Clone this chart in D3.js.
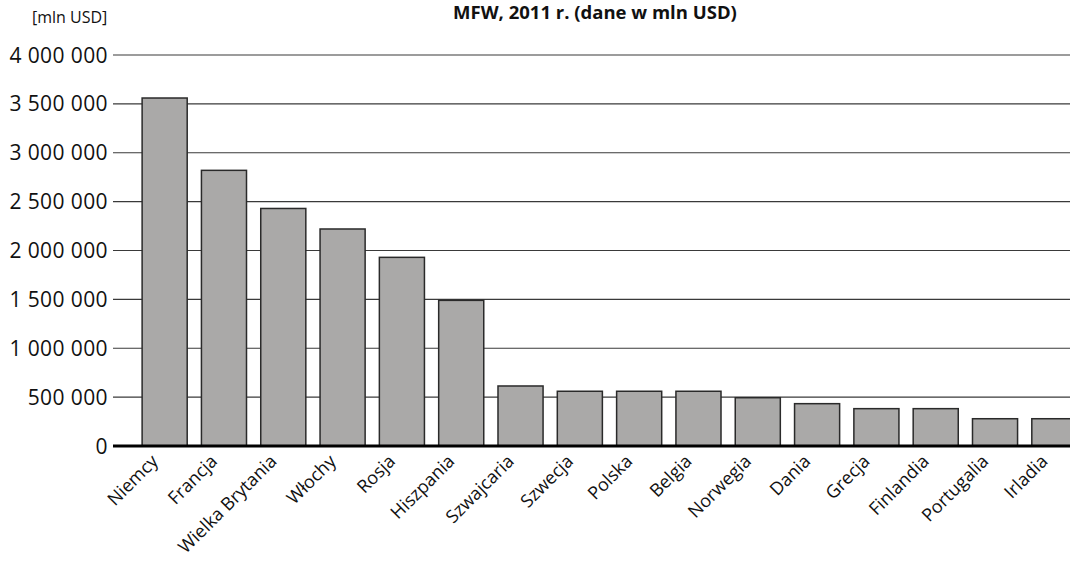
<!DOCTYPE html>
<html>
<head>
<meta charset="utf-8">
<script src="https://cdn.jsdelivr.net/npm/d3@7"></script>
<style>
  html, body { margin: 0; padding: 0; background: #fff; overflow: hidden; }
  svg { display: block; }
</style>
</head>
<body>
<div id="chart"></div>
<script>
// data (mln USD)
const countries = ["Niemcy", "Francja", "Wielka Brytania", "Włochy", "Rosja", "Hiszpania",
    "Szwajcaria", "Szwecja", "Polska", "Belgia", "Norwegia", "Dania", "Grecja",
    "Finlandia", "Portugalia", "Irladia"]
const values = [3560000, 2820000, 2430000, 2220000, 1930000, 1490000,
    614000, 560000, 560000, 560000, 494000, 433000, 382000,
    382000, 279000, 279000]
const yTicks = [0, 500000, 1000000, 1500000, 2000000, 2500000, 3000000, 3500000, 4000000]
const title = "MFW, 2011 r. (dane w mln USD)"
const unitLabel = "[mln USD]"

const width = 1070
const height = 561
const font = "'Open Sans', 'Noto Sans', sans-serif"

const svg = d3.select("#chart").append("svg")
    .attr("width", width)
    .attr("height", height)

const x = d3.scaleBand()
    .domain(countries)
    .range([135, 1084])
    .paddingInner(0.24)
    .paddingOuter(0.12)

const y = d3.scaleLinear()
    .domain([0, 4000000])
    .range([446, 55])

const fmt = v => d3.format(",")(v).replace(/,/g, " ")

// gridlines
svg.append("g")
    .selectAll("line")
    .data(yTicks.filter(d => d > 0))
    .join("line")
    .attr("x1", 113)
    .attr("x2", width)
    .attr("y1", d => y(d))
    .attr("y2", d => y(d))
    .attr("stroke", "#3a3a3a")
    .attr("stroke-width", 1.2)

// tick labels
svg.append("g")
    .selectAll("text")
    .data(yTicks)
    .join("text")
    .attr("x", 108)
    .attr("y", d => y(d))
    .attr("dy", "0.36em")
    .attr("text-anchor", "end")
    .attr("font-family", font)
    .attr("font-size", "21px")
    .attr("letter-spacing", "0.4px")
    .attr("fill", "#111")
    .text(fmt)

// bars
svg.append("g")
    .selectAll("rect")
    .data(countries)
    .join("rect")
    .attr("x", d => x(d))
    .attr("y", (d, i) => y(values[i]))
    .attr("width", x.bandwidth())
    .attr("height", (d, i) => y(0) - y(values[i]))
    .attr("fill", "#aaa9a8")
    .attr("stroke", "#2a2a2a")
    .attr("stroke-width", 1.5)

// baseline
svg.append("line")
    .attr("x1", 113)
    .attr("x2", width)
    .attr("y1", y(0))
    .attr("y2", y(0))
    .attr("stroke", "#000")
    .attr("stroke-width", 3)

// category labels
svg.append("g")
    .selectAll("text")
    .data(countries)
    .join("text")
    .attr("transform", d => `translate(${x(d) + x.bandwidth() / 2 - 10},${y(0) + 12}) rotate(-45)`)
    .attr("text-anchor", "end")
    .attr("dy", "0.35em")
    .attr("font-family", font)
    .attr("font-size", "18px")
    .attr("fill", "#111")
    .text(d => d)

// title and unit
svg.append("text")
    .attr("x", 595)
    .attr("y", 19)
    .attr("text-anchor", "middle")
    .attr("font-family", font)
    .attr("font-weight", "bold")
    .attr("font-size", "18.5px")
    .attr("fill", "#111")
    .text(title)

svg.append("text")
    .attr("x", 32)
    .attr("y", 23)
    .attr("font-family", font)
    .attr("font-size", "16px")
    .attr("fill", "#111")
    .text(unitLabel)
</script>
</body>
</html>
